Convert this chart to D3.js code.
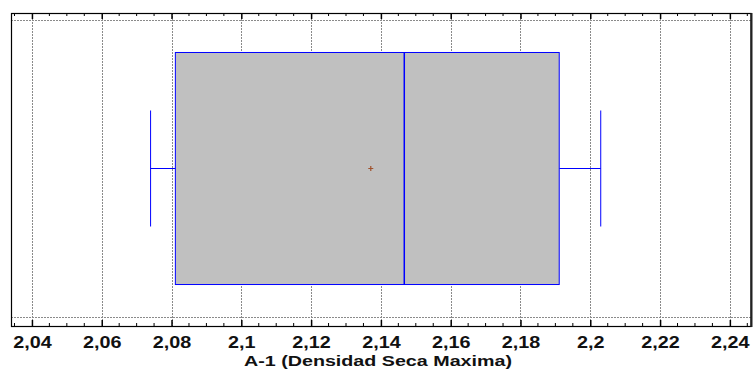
<!DOCTYPE html>
<html>
<head>
<meta charset="utf-8">
<script src="https://cdn.jsdelivr.net/npm/d3@7"></script>
<style>
  body { margin: 0; background: #fff; }
  svg { display: block; }
  text { font-family: "Liberation Sans", Arial, sans-serif; font-weight: bold; fill: #111; }
</style>
</head>
<body>
<div id="chart"></div>
<script>
// box plot summary
const category = ['A-1'];
const stats = [{ min: 2.0740, q1: 2.0811, median: 2.1467, mean: 2.1371, q3: 2.1911, max: 2.2030 }];
const tickValues = [2.04, 2.06, 2.08, 2.10, 2.12, 2.14, 2.16, 2.18, 2.20, 2.22, 2.24];
const tickLabels = ['2,04', '2,06', '2,08', '2,1', '2,12', '2,14', '2,16', '2,18', '2,2', '2,22', '2,24'];
const xTitle = 'A-1 (Densidad Seca Maxima)';

const width = 753;
const height = 373;
const margin = { top: 13, right: 1.5, bottom: 47, left: 11 };

const svg = d3.select('#chart').append('svg')
    .attr('width', width)
    .attr('height', height);

const x = d3.scaleLinear()
    .domain([2.034, 2.2462])
    .range([margin.left, width - margin.right]);

const frameTop = margin.top, frameBottom = height - margin.bottom;
const innerTop = 20, innerBottom = frameBottom - 9;

// inner area sits between the two dotted rules
const y = d3.scaleBand()
    .domain(category)
    .range([innerTop, innerBottom])
    .paddingInner(0)
    .paddingOuter(0.14);

// vertical dotted grid at the major ticks
svg.selectAll('.grid-x')
    .data(tickValues)
    .enter().append('line')
    .attr('x1', d => Math.round(x(d)) + 0.5)
    .attr('x2', d => Math.round(x(d)) + 0.5)
    .attr('y1', frameTop)
    .attr('y2', frameBottom)
    .attr('stroke', '#8a8a8a')
    .attr('stroke-dasharray', '2,1');

// horizontal dotted rules near top and bottom
svg.selectAll('.grid-y')
    .data([innerTop, innerBottom])
    .enter().append('line')
    .attr('x1', margin.left)
    .attr('x2', width - margin.right)
    .attr('y1', d => d + 0.5)
    .attr('y2', d => d + 0.5)
    .attr('stroke', '#8a8a8a')
    .attr('stroke-dasharray', '2,1');

const cy = y('A-1') + y.bandwidth() / 2;
const capH = y.bandwidth() / 4;

stats.forEach(s => {
    // whiskers
    svg.append('line')
        .attr('x1', x(s.min)).attr('x2', x(s.q1))
        .attr('y1', cy).attr('y2', cy)
        .attr('stroke', '#0000ff');
    svg.append('line')
        .attr('x1', x(s.q3)).attr('x2', x(s.max))
        .attr('y1', cy).attr('y2', cy)
        .attr('stroke', '#0000ff');
    svg.selectAll(null)
        .data([s.min, s.max])
        .enter().append('line')
        .attr('x1', d => x(d)).attr('x2', d => x(d))
        .attr('y1', cy - capH).attr('y2', cy + capH)
        .attr('stroke', '#0000ff');

    // box
    svg.append('rect')
        .attr('x', x(s.q1))
        .attr('y', y('A-1'))
        .attr('width', x(s.q3) - x(s.q1))
        .attr('height', y.bandwidth())
        .attr('fill', '#c0c0c0')
        .attr('stroke', '#0000ff');

    // median
    svg.append('line')
        .attr('x1', x(s.median)).attr('x2', x(s.median))
        .attr('y1', y('A-1')).attr('y2', y('A-1') + y.bandwidth())
        .attr('stroke', '#0000ff')
        .attr('stroke-width', 1.5);

    // mean marker (small plus)
    const mx = x(s.mean);
    svg.append('path')
        .attr('d', `M${mx - 2.5},${cy}H${mx + 2.5}M${mx},${cy - 2.5}V${cy + 2.5}`)
        .attr('stroke', '#a0522d')
        .attr('stroke-width', 1.2);
});

// frame
svg.append('rect')
    .attr('x', margin.left + 0.5)
    .attr('y', frameTop + 0.5)
    .attr('width', width - margin.right - margin.left - 1)
    .attr('height', frameBottom - frameTop)
    .attr('fill', 'none')
    .attr('stroke', '#000')
    .attr('stroke-width', 1.2);
svg.append('line')
    .attr('x1', width - margin.right).attr('x2', width - margin.right)
    .attr('y1', frameTop).attr('y2', frameBottom + 1)
    .attr('stroke', '#222')
    .attr('stroke-width', 2);

// minor ticks every 0.005
const minor = d3.range(2.035, 2.2461, 0.005).filter(v => Math.abs(v * 50 - Math.round(v * 50)) > 1e-6);

const xAxisBottom = d3.axisBottom(x)
    .tickValues(tickValues)
    .tickFormat((d, i) => tickLabels[i])
    .tickSizeInner(-6)
    .tickSizeOuter(0)
    .tickPadding(10);

const gb = svg.append('g')
    .attr('transform', `translate(0,${frameBottom})`)
    .call(xAxisBottom);
gb.select('.domain').remove();
gb.selectAll('.tick line').attr('stroke', '#000').attr('stroke-width', 1.5);
gb.selectAll('.tick text')
    .style('font-size', '16.5px')
    .style('font-family', '"Liberation Sans", Arial, sans-serif')
    .style('font-weight', 'bold')
    .attr('transform', 'scale(1.2,1)')
    .attr('fill', '#111');

const xAxisTop = d3.axisTop(x)
    .tickValues(tickValues)
    .tickFormat('')
    .tickSizeInner(-6)
    .tickSizeOuter(0);
const gt = svg.append('g')
    .attr('transform', `translate(0,${frameTop})`)
    .call(xAxisTop);
gt.select('.domain').remove();
gt.selectAll('.tick line').attr('stroke', '#000').attr('stroke-width', 1.5);

// minor ticks top and bottom
svg.selectAll('.minor-b')
    .data(minor)
    .enter().append('line')
    .attr('x1', d => x(d)).attr('x2', d => x(d))
    .attr('y1', frameBottom).attr('y2', frameBottom - 3)
    .attr('stroke', '#000');
svg.selectAll('.minor-t')
    .data(minor)
    .enter().append('line')
    .attr('x1', d => x(d)).attr('x2', d => x(d))
    .attr('y1', frameTop).attr('y2', frameTop + 3)
    .attr('stroke', '#000');

// axis title
svg.append('text')
    .attr('x', 378)
    .attr('y', 366)
    .attr('text-anchor', 'middle')
    .attr('textLength', 268)
    .attr('lengthAdjust', 'spacingAndGlyphs')
    .style('font-size', '15.5px')
    .text(xTitle);
</script>
</body>
</html>
